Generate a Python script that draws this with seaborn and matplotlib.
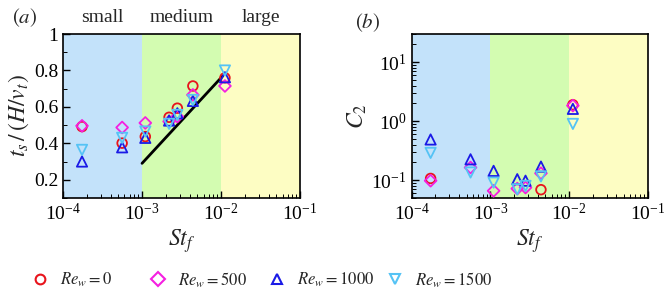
import numpy as np
import pandas as pd
import seaborn as sns
import matplotlib.pyplot as plt
from matplotlib.lines import Line2D
from matplotlib.ticker import MultipleLocator, LogLocator, NullFormatter

# data
st_f = [1.74e-4, 5.6e-4, 1.1e-3, 2.2e-3, 2.8e-3, 4.4e-3, 1.12e-2]

ts_re0 = [0.492, 0.401, 0.437, 0.543, 0.593, 0.715, 0.760]
ts_re500 = [0.496, 0.487, 0.512, 0.520, 0.547, 0.666, 0.715]
ts_re1000 = [0.300, 0.378, 0.430, 0.525, 0.565, 0.633, 0.763]
ts_re1500 = [0.364, 0.430, 0.465, 0.507, 0.556, 0.638, 0.800]

c2_re0 = [0.107, np.nan, np.nan, np.nan, np.nan, 0.069, 1.90]
c2_re500 = [0.098, 0.164, 0.066, 0.072, 0.075, 0.131, 1.84]
c2_re1000 = [0.49, 0.226, 0.144, 0.104, 0.098, 0.170, 1.62]
c2_re1500 = [0.29, 0.135, 0.091, 0.070, 0.080, 0.116, 0.90]

fit_st = [1e-3, 1.05e-2]
fit_ts = [0.29, 0.77]

regime_edges = [1e-4, 1e-3, 1e-2, 1e-1]
regime_names = ["small", "medium", "large"]
regime_colors = ["#c3e2fa", "#d3fcb1", "#fdfdc3"]

labels = [r"$Re_w = 0$", r"$Re_w = 500$", r"$Re_w = 1000$", r"$Re_w = 1500$"]
colors = ["#e8141c", "#f51fe0", "#1a1ae6", "#55c3f5"]
markers = ["o", "D", "^", "v"]
sizes = [48, 36, 55, 55]

sns.set_style("white")
plt.rcParams["font.family"] = ["Liberation Serif", "DejaVu Serif"]
plt.rcParams["mathtext.fontset"] = "stix"

fig = plt.figure(figsize=(6.64, 2.99), dpi=100)
ax1 = fig.add_axes([0.0949, 0.338, 0.357, 0.548])
ax2 = fig.add_axes([0.620, 0.338, 0.3554, 0.548])

ts_sets = [ts_re0, ts_re500, ts_re1000, ts_re1500]
c2_sets = [c2_re0, c2_re500, c2_re1000, c2_re1500]

for ax, sets in [(ax1, ts_sets), (ax2, c2_sets)]:
    for i in range(3):
        ax.axvspan(regime_edges[i], regime_edges[i + 1], color=regime_colors[i], lw=0, zorder=0)
    for vals, col, mk, sz in zip(sets, colors, markers, sizes):
        df = pd.DataFrame({"st": st_f, "v": vals}).dropna()
        sns.scatterplot(data=df, x="st", y="v", marker=mk, s=sz, facecolor="none",
                        edgecolor=col, linewidth=1.3, ax=ax, zorder=3, legend=False)
    ax.set_xscale("log")
    ax.set_xlim(1e-4, 1e-1)
    ax.xaxis.set_major_locator(LogLocator(base=10, numticks=10))
    ax.xaxis.set_minor_locator(LogLocator(base=10, subs=np.arange(2, 10), numticks=10))
    ax.xaxis.set_minor_formatter(NullFormatter())
    ax.tick_params(which="both", direction="in", top=False, right=False,
                   bottom=True, left=True, labelsize=14, colors="black")
    ax.tick_params(which="major", length=5, width=1)
    ax.tick_params(which="minor", length=3, width=0.7)
    ax.set_xlabel(r"$St_f$", fontsize=17, labelpad=2)
    for sp in ax.spines.values():
        sp.set_color("black")
        sp.set_linewidth(1.2)

sns.lineplot(x=fit_st, y=fit_ts, color="black", lw=2, ax=ax1, zorder=2)

ax1.set_ylim(0.1, 1.0)
ax1.yaxis.set_major_locator(MultipleLocator(0.2))
ax1.yaxis.set_minor_locator(MultipleLocator(0.1))
ax1.set_yticks([0.2, 0.4, 0.6, 0.8, 1.0])
ax1.set_yticklabels(["0.2", "0.4", "0.6", "0.8", "1"])
ax1.set_ylabel(r"$t_s\,/\,(H/v_t)$", fontsize=17, labelpad=2)

ax2.set_yscale("log")
ax2.set_ylim(0.05, 30)
ax2.yaxis.set_major_locator(LogLocator(base=10, numticks=10))
ax2.yaxis.set_minor_locator(LogLocator(base=10, subs=np.arange(2, 10), numticks=10))
ax2.yaxis.set_minor_formatter(NullFormatter())
ax2.set_ylabel(r"$C_2$", fontsize=17, labelpad=2)

for i, name in enumerate(regime_names):
    xc = np.sqrt(regime_edges[i] * regime_edges[i + 1])
    ax1.text(xc, 1.05, name, ha="center", va="bottom", fontsize=14,
             transform=ax1.get_xaxis_transform())

fig.text(0.018, 0.94, "$(a)$", fontsize=15, va="center")
fig.text(0.535, 0.925, "$(b)$", fontsize=15, va="center")

# legend: one small legend per entry so the columns are evenly spaced
legend_x = [32, 150, 269, 387]
for lx, lab, col, mk in zip(legend_x, labels, colors, markers):
    h = Line2D([], [], marker=mk, ls="", mfc="none", mec=col, mew=1.5, ms=7)
    fig.legend([h], [lab], loc="center left", bbox_to_anchor=(lx / 664, 0.064),
               frameon=False, fontsize=12, handlelength=1.0, handletextpad=0.7,
               borderpad=0, borderaxespad=0)

fig.savefig("out.png", dpi=100)
